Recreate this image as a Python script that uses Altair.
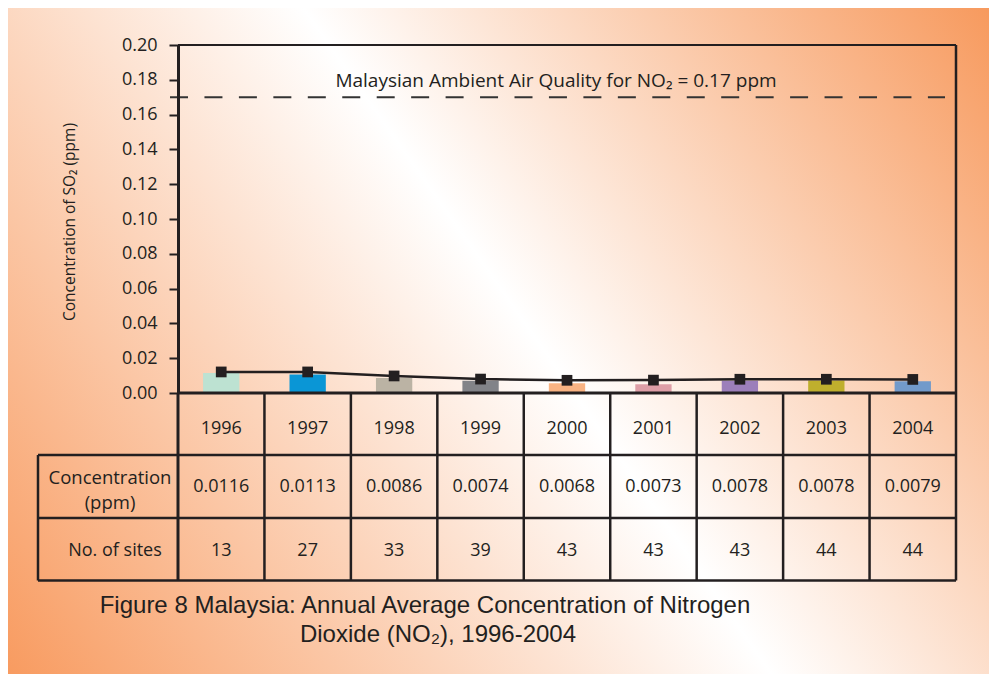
import altair as alt
import pandas as pd

# ---- data ----
years = ["1996", "1997", "1998", "1999", "2000", "2001", "2002", "2003", "2004"]
bar_values = [0.0115, 0.0107, 0.0086, 0.0071, 0.0056, 0.0050, 0.0071, 0.0072, 0.0067]
line_values = [0.0121, 0.0121, 0.0098, 0.0080, 0.0073, 0.0074, 0.0079, 0.0079, 0.0078]
conc_labels = ["0.0116", "0.0113", "0.0086", "0.0074", "0.0068", "0.0073", "0.0078", "0.0078", "0.0079"]
site_counts = ["13", "27", "33", "39", "43", "43", "43", "44", "44"]
bar_colors = ["#BDE2D2", "#0A96D6", "#BBB3A4", "#828388", "#F9B383",
              "#DE9EA7", "#9C7FBA", "#BFAF2D", "#729ACA"]
y_ticks = [0.00, 0.02, 0.04, 0.06, 0.08, 0.10, 0.12, 0.14, 0.16, 0.18, 0.20]
standard_value = [0.17]
annotation = "Malaysian Ambient Air Quality for NO\u2082 = 0.17 ppm"
y_title = "Concentration of SO\u2082 (ppm)"
row_label_conc = ["Concentration", "(ppm)"]
row_label_sites = "No. of sites"
caption_1 = "Figure 8 Malaysia: Annual Average Concentration of Nitrogen"
caption_2 = "Dioxide (NO\u2082), 1996-2004"

# ---- layout ----
W, H = 778, 348
PAD = {"left": 170, "top": 37, "right": 981 - 170 - W, "bottom": 666 - 37 - H}
INK = "#231F20"
FONT = "Open Sans"

df = pd.DataFrame({"year": years, "bar": bar_values, "line": line_values,
                   "conc": conc_labels, "sites": site_counts, "color": bar_colors})
one = pd.DataFrame({"k": [0]})

xs = alt.Scale(domain=years, paddingInner=0, paddingOuter=0)
ys = alt.Scale(domain=[0, 0.2], nice=False, zero=True)
X = alt.X("year:N", scale=xs, axis=None)
Y_AXIS = alt.Axis(
    values=y_ticks, format=".2f", title=None, grid=False, zindex=1,
    domainWidth=3, domainColor=INK, tickColor=INK, tickWidth=2, tickSize=9,
    labelPadding=12, labelFont=FONT, labelFontSize=18, labelColor=INK)


def Yq(field):
    return alt.Y(field, scale=ys, axis=Y_AXIS, title=None)


gradient = alt.LinearGradient(
    gradient="linear",
    stops=[alt.GradientStop(color="#F89B60", offset=0),
           alt.GradientStop(color="#FFFFFF", offset=0.527),
           alt.GradientStop(color="#F79A5E", offset=1)],
    x1=-0.389, y1=0.1857, x2=0.8143, y2=-0.3888,
)
bg = alt.Chart(one).mark_rect(color=gradient).encode(
    x=alt.value(-PAD["left"]), x2=alt.value(W + PAD["right"]),
    y=alt.value(-PAD["top"]), y2=alt.value(H + PAD["bottom"]))

base = alt.Chart(df)

bars = base.mark_bar(width=alt.RelativeBandSize(0.42)).encode(
    x=X, y=Yq("bar:Q"), color=alt.Color("color:N", scale=None))

line = base.mark_line(color=INK, strokeWidth=2.5).encode(x=X, y=Yq("line:Q"))
points = base.mark_square(size=115, color=INK, opacity=1).encode(x=X, y=Yq("line:Q"))

dashed = alt.Chart(pd.DataFrame({"line": standard_value})).mark_rule(
    strokeDash=[18, 16.45], strokeWidth=2, color="#333333").encode(
    y=Yq("line:Q"), x=alt.value(-8), x2=alt.value(767))


def text_at(txt, x, y, size=18, font=FONT, angle=0, align="center", baseline="middle"):
    kw = dict(fontSize=size, font=font, color=INK, align=align, baseline=baseline)
    if angle:
        kw["angle"] = angle
    return alt.Chart(one).mark_text(**kw).encode(
        x=alt.value(x), y=alt.value(y), text=alt.value(txt))


def hrule(y, x0, x1, w=2.5):
    return alt.Chart(one).mark_rule(color=INK, strokeWidth=w).encode(
        x=alt.value(x0), x2=alt.value(x1), y=alt.value(y))


def vrule(x, y0, y1, w=2.5):
    return alt.Chart(one).mark_rule(color=INK, strokeWidth=w).encode(
        x=alt.value(x), y=alt.value(y0), y2=alt.value(y1))


T_BOTTOM = 535.5
col_sep = alt.Chart(pd.DataFrame({"year": years[1:]})).mark_rule(
    color=INK, strokeWidth=2.5).encode(
    x=alt.X("year:N", scale=xs, bandPosition=0, axis=None),
    y=alt.value(H), y2=alt.value(T_BOTTOM))

frame = [
    hrule(0, 0, W, 2),            # top border
    vrule(W, 0, T_BOTTOM, 2.5),   # right border
    hrule(H, 0, W, 3),            # baseline
    vrule(0, H, T_BOTTOM, 3),     # left line continued into table
    hrule(410, -140, W),
    hrule(473, -140, W),
    hrule(T_BOTTOM, -140, W),
    vrule(-140, 410, T_BOTTOM),
]

year_text = base.mark_text(fontSize=18, font=FONT, color=INK).encode(
    x=X, y=alt.value(384), text="year:N")
conc_text = base.mark_text(fontSize=18, font=FONT, color=INK).encode(
    x=X, y=alt.value(442), text="conc:N")
site_text = base.mark_text(fontSize=18, font=FONT, color=INK).encode(
    x=X, y=alt.value(506), text="sites:N")

labels = [
    text_at(row_label_conc[0], -68, 433, size=18.5),
    text_at(row_label_conc[1], -68, 458, size=18.5),
    text_at(row_label_sites, -63, 506),
    text_at(y_title, -108, 177, size=15.5, angle=270),
    text_at(annotation, 378, 36, size=19),
    text_at(caption_1, 247, 613 - 45, size=24, font="Liberation Sans", baseline="alphabetic"),
    text_at(caption_2, 260, 642 - 45, size=24, font="Liberation Sans", baseline="alphabetic"),
]

chart = alt.layer(
    bg, dashed, bars, line, points, col_sep, *frame,
    year_text, conc_text, site_text, *labels,
).properties(
    width=W, height=H, padding=PAD,
    autosize=alt.AutoSizeParams(type="none"),
).configure_view(stroke=None)

chart.save("out.html", embed_options={"renderer": "svg", "actions": False})
